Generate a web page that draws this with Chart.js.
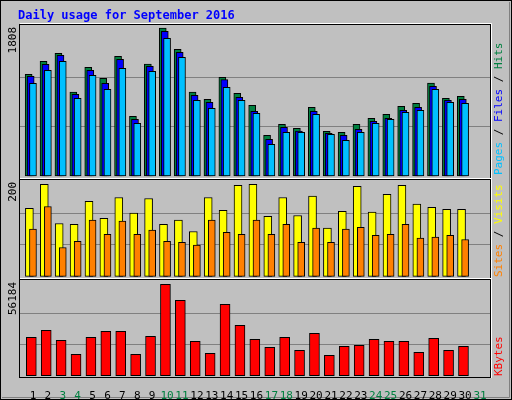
<!DOCTYPE html>
<html lang="en">
<head>
<meta charset="UTF-8">
<title>Daily usage for September 2016</title>
<style>
  body { margin: 0; background: #c0c0c0; }
  #wrap { width: 512px; height: 400px; position: relative; }
</style>
</head>
<body>
<div id="wrap"><canvas id="usageChart" width="512" height="400"></canvas></div>
<script src="https://cdn.jsdelivr.net/npm/chart.js"></script>
<script>
// Daily values (day 31 has no data yet)
const days = [1,2,3,4,5,6,7,8,9,10,11,12,13,14,15,16,17,18,19,20,21,22,23,24,25,26,27,28,29,30,31];
const weekendDays = [3,4,10,11,17,18,24,25,31];
const hits   = [1242,1401,1499,1026,1327,1193,1462,729,1368,1808,1547,1026,937,1205,1010,863,497,631,582,839,546,533,631,704,753,851,888,1136,949,973,0];
const files  = [1218,1364,1474,998,1291,1132,1425,692,1340,1767,1511,985,900,1177,961,790,448,595,550,790,521,497,570,668,704,802,839,1095,924,937,0];
const pages  = [1132,1291,1401,949,1230,1059,1315,643,1279,1682,1450,924,827,1083,924,766,387,533,533,753,509,436,533,643,692,778,802,1059,900,888,0];
const visits = [144,195,112,110,159,123,167,134,165,110,119,95,167,140,193,195,127,167,129,170,102,138,191,136,174,193,153,146,142,142,0];
const sites  = [100,148,61,74,119,89,117,89,98,74,72,66,119,93,89,119,89,110,72,102,72,100,104,87,89,110,81,83,87,78,0];
const kbytes = [23076,27290,21270,12842,23076,26688,26688,12842,23678,55000,45349,20668,13444,42941,30300,21872,17056,23076,15250,25484,12240,17658,18260,21872,20668,20668,14046,22474,15250,17658,0];
const maxHits = 1808, maxVisits = 200, maxKBytes = 56184;

const X_MIN = 0.13, X_MAX = 31.67;
const MONO = "'DejaVu Sans Mono', monospace";

function pts(arr) { return arr.map((v, i) => ({ x: days[i], y: v })); }
function barSet(label, data, color, xAxis, yAxis, thick) {
  return { label, data: pts(data), backgroundColor: color, borderColor: '#000', borderWidth: 1,
           borderSkipped: false, xAxisID: xAxis, yAxisID: yAxis, barThickness: thick, grouped: false };
}
function hiddenX(shift) {
  return { type: 'linear', display: false, offset: false, min: X_MIN + shift, max: X_MAX + shift };
}
function panelY(min, max, gridMax, weight) {
  return {
    type: 'linear', position: 'left', stack: 'panels', stackWeight: weight, min, max,
    afterBuildTicks: s => { s.ticks = [{ value: gridMax / 3 }, { value: gridMax * 2 / 3 }]; },
    afterFit: s => { s.width = 0; },
    ticks: { display: false },
    border: { display: false },
    grid: { color: '#808080', drawTicks: false }
  };
}

// frames and labels that webalizer draws around each panel
const decor = {
  id: 'decor',
  beforeDraw(chart) {
    const c = chart.ctx;
    c.save();
    c.fillStyle = '#c0c0c0';
    c.fillRect(0, 0, 512, 400);
    c.strokeStyle = '#000';
    c.strokeRect(0.5, 0.5, 511, 399);
    c.strokeStyle = '#808080';
    c.beginPath(); c.moveTo(2, 397.5); c.lineTo(509.5, 397.5); c.lineTo(509.5, 2); c.stroke();
    c.restore();
  },
  afterDraw(chart) {
    const c = chart.ctx;
    const ids = ['yH', 'yS', 'yK'];
    const l = chart.chartArea.left, r = chart.chartArea.right;
    c.save();
    ids.forEach(id => {
      const s = chart.scales[id];
      c.strokeStyle = '#000';
      c.strokeRect(l - 0.5, s.top + 0.5, r - l + 1, s.bottom - s.top - 1);
      c.strokeStyle = '#fff';
      c.beginPath(); c.moveTo(l, s.top - 0.5); c.lineTo(r + 1.5, s.top - 0.5); c.lineTo(r + 1.5, s.bottom); c.stroke();
    });
    c.font = 'bold 12px ' + MONO;
    c.fillStyle = '#0000ff';
    c.textBaseline = 'alphabetic';
    c.fillText('Daily usage for September 2016', 18, 19);

    function vtext(x, y, parts, align) {
      c.save();
      c.translate(x, y);
      c.rotate(-Math.PI / 2);
      c.font = '11px ' + MONO;
      c.textBaseline = 'middle';
      let total = parts.reduce((a, p) => a + c.measureText(p[0]).width, 0);
      let pos = align === 'right' ? -total : 0;
      parts.forEach(p => { c.fillStyle = p[1]; c.fillText(p[0], pos, 0); pos += c.measureText(p[0]).width; });
      c.restore();
    }
    const sH = chart.scales.yH, sS = chart.scales.yS, sK = chart.scales.yK;
    vtext(13, sH.top + 3, [[String(maxHits), '#000']], 'right');
    vtext(13, sS.top + 3, [[String(maxVisits), '#000']], 'right');
    vtext(13, sK.top + 3, [[String(maxKBytes), '#000']], 'right');
    vtext(499, sH.bottom - 4, [['Pages', '#00c0ff'], [' / ', '#000'], ['Files', '#0000ff'], [' / ', '#000'], ['Hits', '#008040']]);
    vtext(499, sS.bottom - 2, [['Sites', '#ff8000'], [' / ', '#000'], ['Visits', '#ffff00']]);
    vtext(499, sK.bottom - 2, [['KBytes', '#ff0000']]);
    c.restore();
  }
};

new Chart(document.getElementById('usageChart'), {
  type: 'bar',
  data: {
    datasets: [
      barSet('Pages', pages, '#00c0ff', 'xP', 'yH', 7),
      barSet('Files', files, '#0000ff', 'xF', 'yH', 7),
      barSet('Hits', hits, '#008040', 'xH', 'yH', 7),
      barSet('Sites', sites, '#ff8000', 'xP', 'yS', 7),
      barSet('Visits', visits, '#ffff00', 'xV', 'yS', 8),
      barSet('KBytes', kbytes, '#ff0000', 'xK', 'yK', 10)
    ]
  },
  options: {
    responsive: false,
    animation: false,
    layout: { padding: { left: 20, right: 22, top: 24, bottom: 0 } },
    plugins: { legend: { display: false }, tooltip: { enabled: false } },
    scales: {
      x: {
        type: 'linear', offset: false, min: X_MIN, max: X_MAX,
        afterBuildTicks: s => { s.ticks = days.map(d => ({ value: d })); },
        afterFit: s => { s.height = 22; },
        grid: { display: false, offset: false },
        border: { display: false },
        ticks: {
          font: { family: MONO, size: 11 }, padding: 4, maxRotation: 0, autoSkip: false,
          color: ctx => weekendDays.includes(ctx.tick.value) ? '#008040' : '#000',
          callback: v => String(v)
        }
      },
      xP: hiddenX(0),
      xF: hiddenX(0.154),
      xH: hiddenX(0.29),
      xV: hiddenX(0.24),
      xK: hiddenX(0.11),
      yK: panelY(-1385, 58213, maxKBytes, 99),
      yS: panelY(-5.7, 206.3, maxVisits, 100),
      yH: panelY(-36.6, 1857, maxHits, 155)
    }
  },
  plugins: [decor]
});
</script>
</body>
</html>
